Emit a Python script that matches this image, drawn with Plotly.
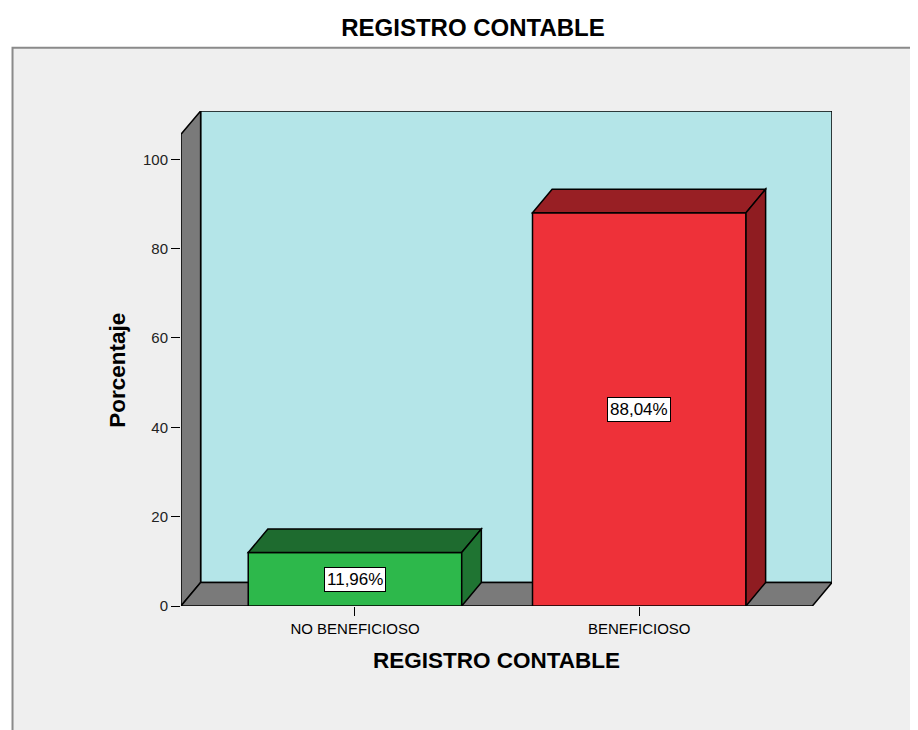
import plotly.graph_objects as go

categories = ["NO BENEFICIOSO", "BENEFICIOSO"]
percent = [11.96, 88.04]
front_colors = ["#2DB84B", "#EE3139"]
top_colors = ["#1E6B2F", "#981F24"]
side_colors = ["#1F7432", "#8F1C21"]
y_ticks = [0, 20, 40, 60, 80, 100]

FONT = "Liberation Sans, Arial, sans-serif"
BAR_W = 0.751
DX, DY = 0.069, 5.26          # fake 3d depth, in data units
X_RANGE = [-0.612, 1.678]
Y_RANGE = [0, 110.8]
WALL_TOP = 105.6
PAGE = 8                      # default body margin of the html page


def poly(pts):
    return "M " + " L ".join(f"{x},{y}" for x, y in pts) + " Z"


xs = list(range(len(categories)))
labels = [f"{v:.2f}".replace(".", ",") + "%" for v in percent]

fig = go.Figure()
fig.add_trace(go.Bar(x=xs, y=percent, width=BAR_W, marker=dict(color=front_colors, line=dict(color="black", width=1.5)),
                     hoverinfo="skip", showlegend=False))

x0, x1 = X_RANGE
shapes = [
    # outer frame
    dict(type="rect", xref="paper", yref="paper", x0=-0.2588, x1=1.16, y0=-0.29, y1=1.128,
         fillcolor="#EFEFEF", line=dict(color="#8A8A8A", width=2), layer="below"),
    # back wall
    dict(type="rect", xref="x", yref="y", x0=x0 + DX, x1=x1, y0=DY, y1=Y_RANGE[1],
         fillcolor="#B4E5E8", line=dict(color="black", width=1.5), layer="below"),
    # left wall
    dict(type="path", xref="x", yref="y", layer="below", fillcolor="#7A7A7A", line=dict(color="black", width=1.5),
         path=poly([(x0, 0), (x0 + DX, DY), (x0 + DX, Y_RANGE[1]), (x0, WALL_TOP)])),
    # floor
    dict(type="path", xref="x", yref="y", layer="below", fillcolor="#7A7A7A", line=dict(color="black", width=1.5),
         path=poly([(x0, 0), (x1 - DX, 0), (x1, DY), (x0 + DX, DY)])),
]
for x, v, tc, sc in zip(xs, percent, top_colors, side_colors):
    l, r = x - BAR_W / 2, x + BAR_W / 2
    shapes.append(dict(type="path", xref="x", yref="y", fillcolor=tc, line=dict(color="black", width=1.5),
                       path=poly([(l, v), (l + DX, v + DY), (r + DX, v + DY), (r, v)])))
    shapes.append(dict(type="path", xref="x", yref="y", fillcolor=sc, line=dict(color="black", width=1.5),
                       path=poly([(r, 0), (r + DX, DY), (r + DX, v + DY), (r, v)])))

annotations = [
    dict(x=x, y=v / 2, xref="x", yref="y", text=t, showarrow=False, bgcolor="white", bordercolor="black",
         borderwidth=1, borderpad=2, font=dict(family=FONT, size=17, color="black"))
    for x, v, t in zip(xs, percent, labels)
]
annotations += [
    dict(x=0.484, y=-0.111, xref="paper", yref="paper", xanchor="center", yanchor="middle",
         text="<b>REGISTRO CONTABLE</b>", showarrow=False, font=dict(family=FONT, size=22.5, color="black")),
    dict(x=-0.0968, y=0.477, xref="paper", yref="paper", xanchor="center", yanchor="middle",
         text="<b>Porcentaje</b>", showarrow=False, textangle=-90, font=dict(family=FONT, size=22.5, color="black")),
]

fig.update_layout(
    width=918, height=730,
    margin=dict(l=181 - PAGE, r=86 + PAGE, t=111 - PAGE, b=124 + PAGE),
    paper_bgcolor="white", plot_bgcolor="rgba(0,0,0,0)",
    title=dict(text="<b>REGISTRO CONTABLE</b>", x=(473 - PAGE) / 918, xanchor="center", y=1 - (28 - PAGE) / 730,
               yanchor="middle", yref="container", font=dict(family=FONT, size=24, color="black")),
    shapes=shapes, annotations=annotations,
    font=dict(family=FONT, size=15, color="black"),
)
fig.update_xaxes(range=X_RANGE, tickvals=xs, ticktext=categories, ticks="outside", ticklen=9, tickcolor="black",
                 showgrid=False, zeroline=False, showline=False, fixedrange=True,
                 tickfont=dict(family=FONT, size=15, color="black"))
fig.update_yaxes(range=Y_RANGE, tickvals=y_ticks, ticks="outside", ticklen=9, tickcolor="black",
                 showgrid=False, zeroline=False, showline=False, fixedrange=True,
                 tickfont=dict(family=FONT, size=15, color="#222222"))

fig.write_html("out.html")
